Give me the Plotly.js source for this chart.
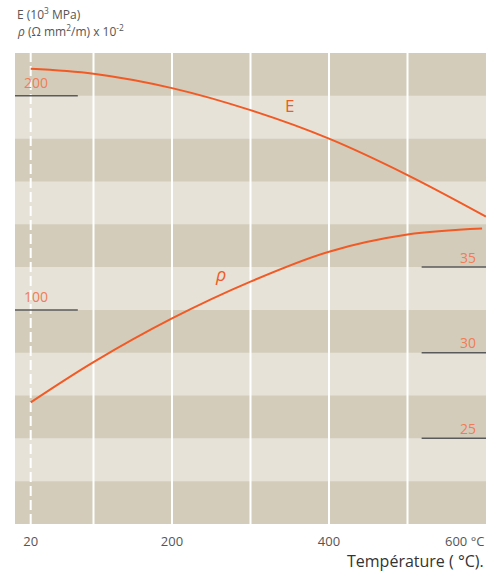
<!DOCTYPE html>
<html>
<head>
<meta charset="utf-8">
<script src="https://cdn.plot.ly/plotly-3.0.1.min.js"></script>
<style>html,body{margin:0;padding:0;background:#fff;}#chart{width:498px;height:571px;}</style>
</head>
<body>
<div id="chart"></div>
<script>
// Data
const tempE = [20, 100, 200, 300, 400, 500, 600];
const modulusE = [212.6, 210.3, 203.6, 193.3, 180.0, 163.0, 143.6];   // E (10^3 MPa)
const tempRho = [20, 100, 200, 300, 400, 500, 595];
const resistivity = [27.1, 29.45, 32.0, 34.15, 35.9, 36.9, 37.25];      // rho x 10^-2
const xTickVals = [20, 200, 400];
const xTickText = ['20', '200', '400'];
const gridTemps = [100, 200, 300, 400, 500];
const leftLabels = [200, 100];
const rightLabels = [35, 30, 25];

const orange = '#f15a24';
const labelOrange = '#f07d55';
const dark = '#d3ccbb';
const light = '#e6e2d8';

const shapes = [];
// alternating horizontal bands (each 20 units on the E axis)
for (let v = 20; v < 220; v += 40) {
  shapes.push({type: 'rect', xref: 'paper', yref: 'y', x0: 0, x1: 1, y0: v, y1: v + 20,
    fillcolor: light, line: {width: 0}, layer: 'below'});
}
gridTemps.forEach(t => shapes.push({type: 'line', xref: 'x', yref: 'paper', x0: t, x1: t, y0: 0, y1: 1,
  line: {color: '#ffffff', width: 2}, layer: 'below'}));
shapes.push({type: 'line', xref: 'x', yref: 'paper', x0: 20, x1: 20, y0: 0, y1: 1,
  line: {color: '#ffffff', width: 2, dash: '10px,4px'}, layer: 'below'});
leftLabels.forEach(v => shapes.push({type: 'line', xref: 'x', yref: 'y', x0: 0, x1: 80, y0: v, y1: v,
  line: {color: '#5a5a5a', width: 1.5}}));
rightLabels.forEach(v => shapes.push({type: 'line', xref: 'x', yref: 'y2', x0: 518, x1: 600, y0: v, y1: v,
  line: {color: '#5a5a5a', width: 1.5}}));

const annotations = [];
leftLabels.forEach(v => annotations.push({xref: 'x', yref: 'y', x: 9, y: v, xanchor: 'left', yanchor: 'middle',
  yshift: 13, text: String(v), showarrow: false, font: {size: 14, color: labelOrange}}));
rightLabels.forEach(v => annotations.push({xref: 'x', yref: 'y2', x: 590, y: v, xanchor: 'right', yanchor: 'middle',
  yshift: 10, text: String(v), showarrow: false, font: {size: 14, color: labelOrange}}));
annotations.push({xref: 'x', yref: 'y', x: 350, y: 195.5, text: 'E', showarrow: false,
  font: {size: 17, color: orange}, xanchor: 'center', yanchor: 'middle'});
annotations.push({xref: 'x', yref: 'y2', x: 262, y: 34.6, text: '<i>ρ</i>', showarrow: false,
  font: {size: 18, color: orange}, xanchor: 'center', yanchor: 'middle'});
annotations.push({xref: 'paper', yref: 'paper', x: 0, y: 1.083, xanchor: 'left', yanchor: 'middle',
  text: 'E (10<sup>3</sup> MPa)', showarrow: false, font: {size: 12, color: '#555'}});
annotations.push({xref: 'paper', yref: 'paper', x: 0, y: 1.047, xanchor: 'left', yanchor: 'middle',
  text: '<i>ρ</i> (Ω mm<sup>2</sup>/m) x 10<sup>-2</sup>', showarrow: false, font: {size: 12, color: '#555'}});
annotations.push({xref: 'paper', yref: 'paper', x: 1, y: -0.036, xanchor: 'right', yanchor: 'middle',
  text: '600 °C', showarrow: false, font: {size: 13, color: '#555'}});
annotations.push({xref: 'paper', yref: 'paper', x: 1, y: -0.079, xanchor: 'right', yanchor: 'middle',
  text: 'Température ( °C).', showarrow: false, font: {size: 16, color: '#333'}});

const traces = [
  {x: tempE, y: modulusE, type: 'scatter', mode: 'lines', yaxis: 'y',
   line: {color: orange, width: 2, shape: 'spline'}, hoverinfo: 'skip'},
  {x: tempRho, y: resistivity, type: 'scatter', mode: 'lines', yaxis: 'y2',
   line: {color: orange, width: 2, shape: 'spline'}, hoverinfo: 'skip'}
];

const layout = {
  width: 498, height: 571,
  margin: {l: 15, r: 12, t: 53, b: 47},
  paper_bgcolor: '#ffffff', plot_bgcolor: dark,
  showlegend: false,
  font: {family: 'Open Sans, sans-serif', color: '#555'},
  xaxis: {range: [0, 600], showgrid: false, zeroline: false, showline: false,
    tickvals: xTickVals, ticktext: xTickText, ticks: '', ticklabelstandoff: 8,
    tickfont: {size: 13, color: '#555'}, fixedrange: true},
  yaxis: {range: [0, 220], showgrid: false, zeroline: false, showticklabels: false, ticks: '', fixedrange: true},
  yaxis2: {range: [20, 47.5], overlaying: 'y', side: 'right', showgrid: false, zeroline: false,
    showticklabels: false, ticks: '', fixedrange: true},
  shapes: shapes,
  annotations: annotations
};

Plotly.newPlot('chart', traces, layout, {displayModeBar: false, staticPlot: true});
</script>
</body>
</html>
